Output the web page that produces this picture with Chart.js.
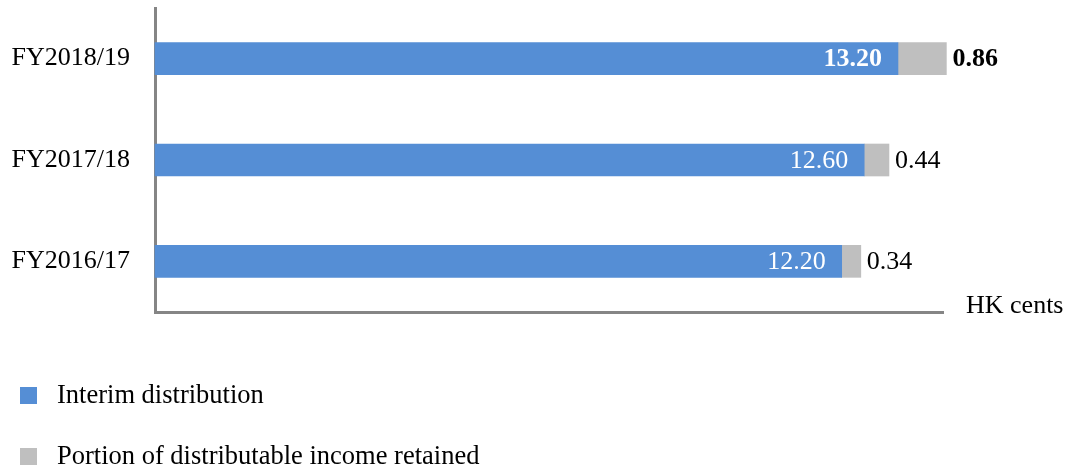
<!DOCTYPE html>
<html>
<head>
<meta charset="utf-8">
<script src="https://cdn.jsdelivr.net/npm/chart.js@4/dist/chart.umd.min.js"></script>
<style>
html,body{margin:0;padding:0;background:#fff;}
#wrap{position:relative;width:1065px;height:468px;}
</style>
</head>
<body>
<div id="wrap"><canvas id="c" width="1065" height="468"></canvas></div>
<script>
const categories = ['FY2018/19', 'FY2017/18', 'FY2016/17'];
const interimDistribution = [13.20, 12.60, 12.20];
const retainedPortion = [0.86, 0.44, 0.34];
const seriesNames = ['Interim distribution', 'Portion of distributable income retained'];
const unitLabel = 'HK cents';

const FONT = '"Liberation Serif", "Times New Roman", serif';
const BLUE = '#558ED5';
const GREY = '#BFBFBF';
const AXIS = '#858585';

const labelPlugin = {
  id: 'labels',
  afterDatasetsDraw(chart) {
    const ctx = chart.ctx;
    ctx.save();
    const m0 = chart.getDatasetMeta(0);
    const m1 = chart.getDatasetMeta(1);
    m0.data.forEach((bar, i) => {
      const bold = i === 0 ? 'bold ' : '';
      ctx.font = bold + '26px ' + FONT;
      ctx.textBaseline = 'middle';
      ctx.fillStyle = '#ffffff';
      ctx.textAlign = 'right';
      ctx.fillText(interimDistribution[i].toFixed(2), bar.x - 16, bar.y + 1);
      const g = m1.data[i];
      ctx.fillStyle = '#000000';
      ctx.textAlign = 'left';
      ctx.fillText(retainedPortion[i].toFixed(2), g.x + 6, g.y + 1);
    });
    ctx.restore();
  },
  afterDraw(chart) {
    const ctx = chart.ctx;
    const a = chart.chartArea;
    ctx.save();
    ctx.font = '26px ' + FONT;
    ctx.textBaseline = 'middle';
    ctx.textAlign = 'left';
    ctx.fillStyle = '#000';
    ctx.fillText(unitLabel, a.right + 23, a.bottom - 6);
    // legend
    ctx.font = '26.5px ' + FONT;
    const ys = [395, 456];
    chart.data.datasets.forEach((ds, i) => {
      ctx.fillStyle = ds.backgroundColor;
      ctx.fillRect(20, ys[i] - 8, 17, 17);
      ctx.fillStyle = '#000';
      ctx.fillText(ds.label, 57, ys[i] + 1);
    });
    ctx.restore();
  }
};

new Chart(document.getElementById('c'), {
  type: 'bar',
  data: {
    labels: categories,
    datasets: [
      { label: seriesNames[0], data: interimDistribution, backgroundColor: BLUE, barThickness: 32, clip: false },
      { label: seriesNames[1], data: retainedPortion, backgroundColor: GREY, barThickness: 32, clip: false }
    ]
  },
  options: {
    indexAxis: 'y',
    responsive: false,
    animation: false,
    devicePixelRatio: 1,
    layout: { padding: { left: 0, right: 122, top: 8, bottom: 156 } },
    plugins: { legend: { display: false }, tooltip: { enabled: false } },
    scales: {
      x: {
        stacked: true,
        min: 0,
        max: 14,
        grid: { display: false, drawTicks: false },
        border: { display: true, color: AXIS, width: 3 },
        ticks: { display: false },
        afterFit(s) { s.height = 0; s.paddingLeft = 0; s.paddingRight = 0; }
      },
      y: {
        stacked: true,
        z: 1,
        grid: { display: false, drawTicks: false },
        border: { display: true, color: AXIS, width: 3 },
        ticks: { color: '#000', font: { family: FONT, size: 26 }, padding: 25 },
        afterFit(s) { s.width = 155; s.paddingTop = 0; s.paddingBottom = 0; }
      }
    }
  },
  plugins: [labelPlugin]
});
</script>
</body>
</html>
